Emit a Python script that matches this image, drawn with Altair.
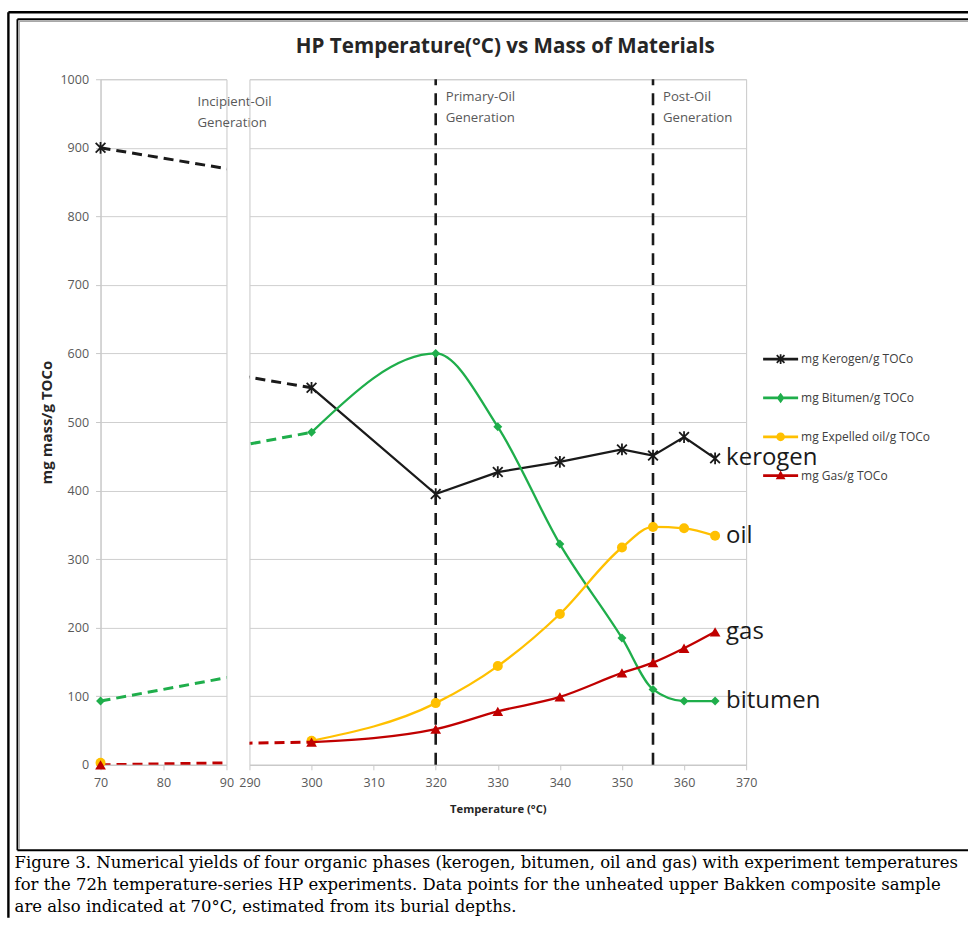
import altair as alt
import pandas as pd

# ---------------- data ----------------
series_short = ["kerogen", "bitumen", "oil", "gas"]
series_names = ["mg Kerogen/g TOCo", "mg Bitumen/g TOCo", "mg Expelled oil/g TOCo", "mg Gas/g TOCo"]
series_colors = ["#1a1a1a", "#1fae4b", "#ffc000", "#c00000"]

temps = [300, 320, 330, 340, 350, 355, 360, 365]
kerogen = [550, 395, 427, 442, 460, 451, 478, 447]
bitumen = [485, 600, 493, 322, 185, 110, 93, 93]
oil = [35, 90, 144, 220, 317, 347, 345, 334]
gas = [33, 52, 78, 99, 134, 149, 170, 194]

unheated_temp = 70
unheated_values = [900, 93, 3, 0]          # kerogen, bitumen, oil, gas at 70 °C
dashed_series = ["kerogen", "bitumen", "gas"]

stage_temps = [320, 355]
stage_texts = ["Primary-Oil\nGeneration", "Post-Oil\nGeneration"]
incipient_text = "Incipient-Oil\nGeneration"

left_ticks = [70, 80, 90]
right_ticks = [290, 300, 310, 320, 330, 340, 350, 360, 370]
y_ticks = [0, 100, 200, 300, 400, 500, 600, 700, 800, 900, 1000]

title_text = "HP Temperature(\u00b0C) vs Mass of Materials"
x_title = "Temperature (\u00b0C)"
y_title = "mg mass/g TOCo"
caption_lines = [
    "Figure 3. Numerical yields of four organic phases (kerogen, bitumen, oil and gas) with experiment temperatures",
    "for the 72h temperature-series HP experiments. Data points for the unheated upper Bakken composite sample",
    "are also indicated at 70\u00b0C, estimated from its burial depths.",
]

# ---------------- tables ----------------
series_values = {"kerogen": kerogen, "bitumen": bitumen, "oil": oil, "gas": gas}
rows = []
for s in series_short:
    for t, v in zip(temps, series_values[s]):
        rows.append({"series": s, "temp": t, "value": v})
heated = pd.DataFrame(rows)
unheated = pd.DataFrame({"series": series_short, "temp": [unheated_temp] * 4, "value": unheated_values})
connector = pd.concat([unheated, heated[heated["temp"] == temps[0]]], ignore_index=True)
end_labels = pd.DataFrame({"label": series_short, "temp": [temps[-1]] * 4,
                           "value": [series_values[s][-1] for s in series_short]})
stages = pd.DataFrame({"temp": stage_temps, "value": [0, 0], "top": [1000, 1000], "label": stage_texts})

# ---------------- styles ----------------
FONT = "Open Sans"
ORIGIN = (100, 77)  # page position of the left plot area's top-left corner
ASTER = "M-1,-1L1,1M-1,1L1,-1M0,-1.2L0,1.2"
style = {
    "kerogen": dict(shape=ASTER, filled=False, size=95, strokeWidth=1.8, interp="linear"),
    "bitumen": dict(shape="diamond", filled=True, size=80, strokeWidth=0, interp="monotone"),
    "oil": dict(shape="circle", filled=True, size=100, strokeWidth=0, interp="monotone"),
    "gas": dict(shape="triangle-up", filled=True, size=115, strokeWidth=0, interp="monotone"),
}
color_of = dict(zip(series_short, series_colors))

LINE = "M-1,-0.08H1V0.08H-1Z"
legend_paths = [
    LINE + "M-0.185,-0.255L0.255,0.185L0.185,0.255L-0.255,-0.185Z"
         + "M0.255,-0.185L-0.185,0.255L-0.255,0.185L0.185,-0.255Z"
         + "M-0.05,-0.28H0.05V0.28H-0.05Z",
    LINE + "M0,-0.3L0.22,0L0,0.3L-0.22,0Z",
    LINE + "M0.25,0A0.25,0.25 0 1 1 -0.25,0A0.25,0.25 0 1 1 0.25,0Z",
    LINE + "M0,-0.3L0.28,0.2L-0.28,0.2Z",
]

yscale = alt.Scale(domain=[0, 1000], nice=False, zero=True)
common_x_axis = dict(grid=False, labelFlush=False, labelOverlap=False, tickSize=5,
                     labelPadding=7, domainColor="#c8c8c8", tickColor="#c8c8c8")

xl = alt.X("temp:Q", scale=alt.Scale(domain=[70, 90], nice=False, zero=False),
           axis=alt.Axis(values=left_ticks, title=None, format="d", **common_x_axis))
yl = alt.Y("value:Q", scale=yscale,
           axis=alt.Axis(values=y_ticks, title=y_title, format="d", grid=True, tickSize=5,
                         labelPadding=7, titlePadding=5, titleFontSize=15,
                         domainColor="#c8c8c8", tickColor="#c8c8c8"))
xr = alt.X("temp:Q", scale=alt.Scale(domain=[290, 370], nice=False, zero=False),
           axis=alt.Axis(values=right_ticks, title=x_title, format="d", titlePadding=14,
                         titleFontSize=11.3, **common_x_axis))
yr = alt.Y("value:Q", scale=yscale,
           axis=alt.Axis(values=y_ticks, title=None, grid=True, labels=False, ticks=False,
                         domain=False))

# ---------------- decorations (page frame, title, caption) ----------------
frame_segments = pd.DataFrame([
    # x1, y1, x2, y2 (page px), colour, width
    (7.8, 10.0, 968, 10.0, "#000000", 2.4),
    (7.8, 10.0, 7.8, 916, "#000000", 2.4),
    (16.8, 17.0, 968, 17.0, "#000000", 1.8),
    (16.8, 17.0, 16.8, 848.5, "#000000", 1.8),
    (16.8, 848.5, 968, 848.5, "#000000", 1.8),
    (18.6, 19.0, 968, 19.0, "#a8a8a8", 1.4),
    (18.6, 19.0, 18.6, 847, "#a8a8a8", 1.4),
], columns=["x1", "y1", "x2", "y2", "c", "w"])
frame_segments[["x1", "x2"]] -= ORIGIN[0]
frame_segments[["y1", "y2"]] -= ORIGIN[1]

frame = alt.Chart(frame_segments).mark_rule().encode(
    x=alt.X("x1:Q", scale=None), x2="x2:Q",
    y=alt.Y("y1:Q", scale=None), y2="y2:Q",
    color=alt.Color("c:N", scale=None),
    strokeWidth=alt.StrokeWidth("w:Q", scale=None),
)

title = alt.Chart(pd.DataFrame({"t": [title_text]})).mark_text(
    font=FONT, fontSize=20.6, fontWeight="bold", color="#262626", align="center", baseline="middle"
).encode(text="t:N", x=alt.value(505 - ORIGIN[0]), y=alt.value(45 - ORIGIN[1]))

caption_df = pd.DataFrame({"line": caption_lines, "py": [866 - ORIGIN[1], 888 - ORIGIN[1], 910 - ORIGIN[1]]})
caption = alt.Chart(caption_df).mark_text(
    font="DejaVu Serif", fontSize=16.5, color="#000000", align="left", baseline="alphabetic"
).encode(text="line:N", x=alt.value(14 - ORIGIN[0]), y=alt.Y("py:Q", scale=None))

incipient = alt.Chart(pd.DataFrame({"t": [incipient_text]})).mark_text(
    font=FONT, fontSize=13.2, color="#595959", align="left", baseline="top", lineBreak="\n", lineHeight=21
).encode(text="t:N", x=alt.value(197 - ORIGIN[0]), y=alt.value(94 - ORIGIN[1]))

# ---------------- left panel (70-90 °C) ----------------
left_layers = [frame, title, caption]
for s in dashed_series:
    left_layers.append(
        alt.Chart(connector[connector["series"] == s]).mark_line(
            color=color_of[s], strokeWidth=3, strokeDash=[10, 6], clip=True
        ).encode(x=xl, y=yl)
    )
for s in series_short:
    st = style[s]
    left_layers.append(
        alt.Chart(unheated[unheated["series"] == s]).mark_point(
            shape=st["shape"], filled=st["filled"], size=st["size"], color=color_of[s],
            opacity=1, strokeWidth=st["strokeWidth"], clip=False
        ).encode(x=xl, y=yl)
    )
left_layers.append(incipient)
left = alt.layer(*left_layers).properties(width=126, height=686)

# ---------------- right panel (290-370 °C) ----------------
right_layers = [
    alt.Chart(stages).mark_rule(color="#1a1a1a", strokeWidth=2.6, strokeDash=[12, 8]).encode(
        x=xr, y=yr, y2="top:Q")
]
for s in series_short:
    st = style[s]
    if s in dashed_series:
        right_layers.append(
            alt.Chart(connector[connector["series"] == s]).mark_line(
                color=color_of[s], strokeWidth=3, strokeDash=[10, 6], clip=True
            ).encode(x=xr, y=yr)
        )
    right_layers.append(
        alt.Chart(heated[heated["series"] == s]).mark_line(
            color=color_of[s], strokeWidth=2.3, interpolate=st["interp"]
        ).encode(x=xr, y=yr)
    )
    right_layers.append(
        alt.Chart(heated[heated["series"] == s]).mark_point(
            shape=st["shape"], filled=st["filled"], size=st["size"], color=color_of[s],
            opacity=1, strokeWidth=st["strokeWidth"], clip=False
        ).encode(x=xr, y=yr)
    )

right_layers.append(
    alt.Chart(end_labels).mark_text(
        font=FONT, fontSize=24, color="#1a1a1a", align="left", baseline="middle", dx=11
    ).encode(x=xr, y=yr, text="label:N")
)
right_layers.append(
    alt.Chart(stages).mark_text(
        font=FONT, fontSize=13.2, color="#595959", align="left", baseline="top",
        lineBreak="\n", lineHeight=21, dx=10
    ).encode(x=xr, y=alt.value(89 - ORIGIN[1]), text="label:N")
)

leg = alt.Legend(title=None, orient="none", legendX=763 - 249, legendY=339.5 - ORIGIN[1],
                 symbolSize=1225, symbolStrokeWidth=0, symbolOpacity=1,
                 labelFont=FONT, labelFontSize=12, labelColor="#404040",
                 labelOffset=3, rowPadding=14.9, padding=0)
right_layers.append(
    alt.Chart(pd.DataFrame({"series": series_names})).transform_filter("false").mark_point(
        filled=True, opacity=1
    ).encode(
        color=alt.Color("series:N", scale=alt.Scale(domain=series_names, range=series_colors), legend=leg),
        shape=alt.Shape("series:N", scale=alt.Scale(domain=series_names, range=legend_paths), legend=leg),
    )
)
right = alt.layer(*right_layers).properties(width=497, height=686)

chart = (
    alt.hconcat(left, right, spacing=23, bounds="flush")
    .resolve_scale(color="independent", shape="independent")
    .properties(padding={"left": 6.6, "top": 10, "right": 0, "bottom": 0})
    .configure_view(stroke="#c8c8c8", strokeWidth=1)
    .configure_axis(labelFont=FONT, labelFontSize=12.5, labelColor="#595959",
                    gridColor="#cfcfcf", titleFont=FONT, titleFontWeight="bold",
                    titleColor="#262626")
)

chart.save("out.html", embed_options={"renderer": "svg", "actions": False})
